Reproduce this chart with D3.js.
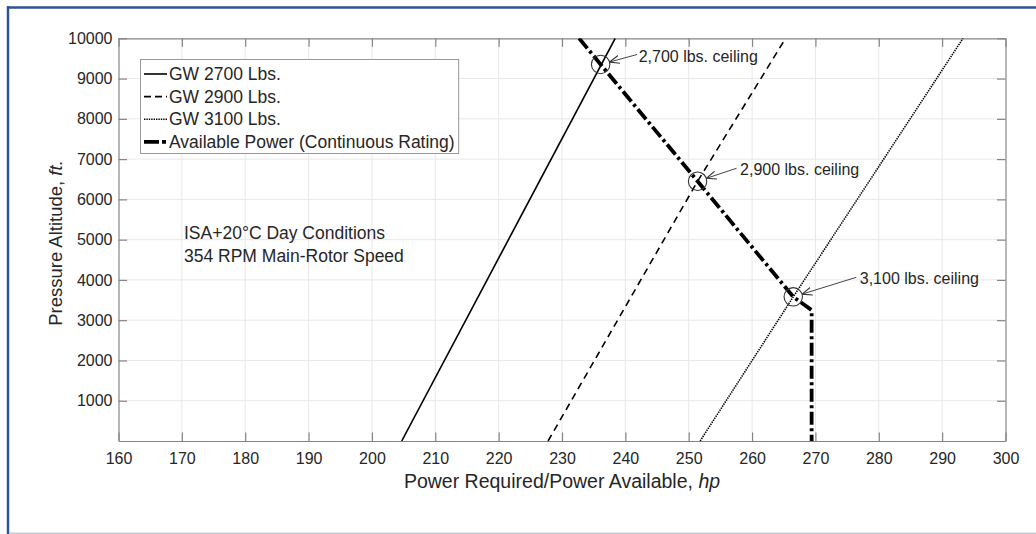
<!DOCTYPE html>
<html>
<head>
<meta charset="utf-8">
<script src="https://cdn.jsdelivr.net/npm/d3@7"></script>
<style>
  html, body { margin: 0; padding: 0; background: #fff; }
  svg { display: block; font-family: "Liberation Sans", Arial, sans-serif; }
</style>
</head>
<body>
<svg id="chart" width="1036" height="534"></svg>
<script>
// ---- data ----
const xTicks = [160, 170, 180, 190, 200, 210, 220, 230, 240, 250, 260, 270, 280, 290, 300];
const yTicks = [1000, 2000, 3000, 4000, 5000, 6000, 7000, 8000, 9000, 10000];

// power required (hp) vs pressure altitude (ft) for each gross weight
const gw2700Power = [204.7, 238.4];
const gw2700Alt   = [0, 10000];
const gw2900Power = [227.8, 251.4, 265.3];
const gw2900Alt   = [0, 6450, 10000];
const gw3100Power = [251.8, 266.5, 293.3];
const gw3100Alt   = [0, 3580, 10000];

// available power, continuous rating
const availPower = [232.7, 236.1, 251.4, 266.5, 269.4, 269.4];
const availAlt   = [10000, 9350, 6450, 3580, 3250, 0];

// hover ceilings (intersection of required and available power)
const ceilingLabels = ["2,700 lbs. ceiling", "2,900 lbs. ceiling", "3,100 lbs. ceiling"];
const ceilingPower  = [236.1, 251.4, 266.5];
const ceilingAlt    = [9350, 6450, 3580];

const legendLabels = ["GW 2700 Lbs.", "GW 2900 Lbs.", "GW 3100 Lbs.", "Available Power (Continuous Rating)"];
const noteLines = ["ISA+20°C Day Conditions", "354 RPM Main-Rotor Speed"];

// ---- layout ----
const svg = d3.select("#chart");
const plot = { left: 118.5, right: 1005.5, top: 38.3, bottom: 441 };
const x = d3.scaleLinear().domain([160, 300]).range([plot.left, plot.right]);
const y = d3.scaleLinear().domain([0, 10000]).range([plot.bottom, plot.top]);

svg.append("rect").attr("width", 1036).attr("height", 534).attr("fill", "#fff");

// page frame
svg.append("line").attr("x1", 7).attr("x2", 1036).attr("y1", 7.5).attr("y2", 7.5)
  .attr("stroke", "#2f5597").attr("stroke-width", 2.5);
svg.append("line").attr("x1", 8).attr("x2", 8).attr("y1", 6).attr("y2", 534)
  .attr("stroke", "#2f5597").attr("stroke-width", 2.5);
svg.append("line").attr("x1", 9).attr("x2", 1036).attr("y1", 533.2).attr("y2", 533.2)
  .attr("stroke", "#c3cad8").attr("stroke-width", 1.6);

// grid
const grid = svg.append("g").attr("stroke", "#e8e8e8").attr("stroke-width", 1);
grid.selectAll(".vg").data(xTicks.slice(1, -1)).join("line")
  .attr("x1", d => x(d)).attr("x2", d => x(d)).attr("y1", plot.top).attr("y2", plot.bottom);
grid.selectAll(".hg").data(yTicks.slice(0, -1)).join("line")
  .attr("y1", d => y(d)).attr("y2", d => y(d)).attr("x1", plot.left).attr("x2", plot.right);

// axes (box with inward ticks)
const axisColor = "#858585";
const tickLen = 8.5;
const fmt = d3.format("d");
const bottomAxis = d3.axisBottom(x).tickValues(xTicks).tickSizeInner(-tickLen).tickSizeOuter(0).tickPadding(11.5).tickFormat(fmt);
const topAxis = d3.axisTop(x).tickValues(xTicks).tickSizeInner(-tickLen).tickSizeOuter(0).tickFormat("");
const leftAxis = d3.axisLeft(y).tickValues(yTicks).tickSizeInner(-tickLen).tickSizeOuter(0).tickPadding(6).tickFormat(fmt);
const rightAxis = d3.axisRight(y).tickValues(yTicks).tickSizeInner(-tickLen).tickSizeOuter(0).tickFormat("");

function styleAxis(g) {
  g.select(".domain").attr("stroke", axisColor).attr("stroke-width", 1.2);
  g.selectAll(".tick line").attr("stroke", axisColor).attr("stroke-width", 1.2);
  g.selectAll(".tick text").attr("fill", "#262626").style("font-size", "16px")
    .style("font-family", "'Liberation Sans', Arial, sans-serif");
}
svg.append("g").attr("transform", `translate(0,${plot.bottom})`).call(bottomAxis).call(styleAxis);
svg.append("g").attr("transform", `translate(0,${plot.top})`).call(topAxis).call(styleAxis);
svg.append("g").attr("transform", `translate(${plot.left},0)`).call(leftAxis).call(styleAxis);
svg.append("g").attr("transform", `translate(${plot.right},0)`).call(rightAxis).call(styleAxis);

// axis titles
const xt = svg.append("text").attr("x", (plot.left + plot.right) / 2).attr("y", 488)
  .attr("text-anchor", "middle").attr("fill", "#262626").style("font-size", "19.5px");
xt.append("tspan").text("Power Required/Power Available, ");
xt.append("tspan").attr("font-style", "italic").text("hp");

const yt = svg.append("text").attr("transform", "translate(61.5,243) rotate(-90)")
  .attr("text-anchor", "middle").attr("fill", "#262626").style("font-size", "18.5px");
yt.append("tspan").text("Pressure Altitude, ");
yt.append("tspan").attr("font-style", "italic").text("ft.");

// curves
svg.append("clipPath").attr("id", "plotClip").append("rect")
  .attr("x", plot.left).attr("y", plot.top)
  .attr("width", plot.right - plot.left).attr("height", plot.bottom - plot.top);

const series = [
  { power: gw2700Power, alt: gw2700Alt, width: 1.6, dash: null, legendDash: null },
  { power: gw2900Power, alt: gw2900Alt, width: 1.6, dash: "7,5", legendDash: "7,4" },
  { power: gw3100Power, alt: gw3100Alt, width: 1.6, dash: "1.4,1", legendDash: "1.4,1" },
  { power: availPower, alt: availAlt, width: 3.8, dash: "13,3.5,3,3.5", legendDash: "15,3,4,3" }
];
const line = d3.line().x(d => x(d[0])).y(d => y(d[1]));
const curves = svg.append("g").attr("clip-path", "url(#plotClip)");
series.forEach(s => {
  curves.append("path")
    .datum(s.power.map((p, i) => [p, s.alt[i]]))
    .attr("d", line)
    .attr("fill", "none")
    .attr("stroke", "#000")
    .attr("stroke-width", s.width)
    .attr("stroke-dasharray", s.dash);
});

// ceiling markers with arrows and labels
const defs = svg.append("defs");
defs.append("marker").attr("id", "arrowHead").attr("viewBox", "0 0 10 10")
  .attr("refX", 10).attr("refY", 5).attr("markerWidth", 10).attr("markerHeight", 10)
  .attr("markerUnits", "userSpaceOnUse").attr("orient", "auto")
  .append("path").attr("d", "M0,1 L10,5 L0,9").attr("fill", "none")
  .attr("stroke", "#333").attr("stroke-width", 1.2);

const labelOffsets = [[38, -2], [42.5, -6], [66.5, -13]];
const arrowStart = [[36.5, -10], [39, -13], [63, -19.5]];
const r = 9.2;
ceilingPower.forEach((p, i) => {
  const cx = x(p), cy = y(ceilingAlt[i]);
  svg.append("circle").attr("cx", cx).attr("cy", cy).attr("r", r)
    .attr("fill", "none").attr("stroke", "#333").attr("stroke-width", 1.1);
  const sx = cx + arrowStart[i][0], sy = cy + arrowStart[i][1];
  const dx = sx - cx, dy = sy - cy, len = Math.hypot(dx, dy);
  svg.append("line").attr("x1", sx).attr("y1", sy)
    .attr("x2", cx + dx / len * r).attr("y2", cy + dy / len * r)
    .attr("stroke", "#444").attr("stroke-width", 1)
    .attr("marker-end", "url(#arrowHead)");
  svg.append("text").attr("x", cx + labelOffsets[i][0]).attr("y", cy + labelOffsets[i][1])
    .attr("fill", "#262626").style("font-size", "16px").text(ceilingLabels[i]);
});

// condition notes
svg.append("g").selectAll("text").data(noteLines).join("text")
  .attr("x", 184).attr("y", (d, i) => 239 + i * 22.5)
  .attr("fill", "#262626").style("font-size", "17.5px").text(d => d);

// legend
const lg = svg.append("g");
const legendBox = lg.append("rect").attr("x", 140.5).attr("y", 59.5).attr("height", 94)
  .attr("fill", "#fff").attr("stroke", "#999").attr("stroke-width", 1);
let maxRight = 0;
legendLabels.forEach((lab, i) => {
  const cy = 74 + i * 22.6;
  const s = series[i];
  lg.append("line").attr("x1", 144).attr("x2", 167).attr("y1", cy).attr("y2", cy)
    .attr("stroke", "#000").attr("stroke-width", s.width)
    .attr("stroke-dasharray", s.legendDash);
  const t = lg.append("text").attr("x", 169).attr("y", cy + 6).attr("fill", "#262626")
    .style("font-size", "17.5px").text(lab);
  maxRight = Math.max(maxRight, t.node().getComputedTextLength() + 169);
});
legendBox.attr("width", maxRight + 4 - 140.5);
</script>
</body>
</html>
